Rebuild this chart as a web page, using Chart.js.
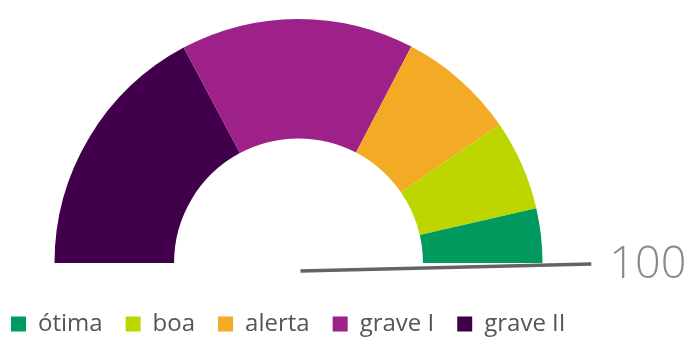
<!DOCTYPE html>
<html>
<head>
<meta charset="utf-8">
<script src="https://cdn.jsdelivr.net/npm/chart.js@4/dist/chart.umd.min.js"></script>
<style>
  html, body { margin: 0; padding: 0; background: #fff; }
  #wrap { width: 692px; height: 341px; }
</style>
</head>
<body>
<div id="wrap"><canvas id="myChart"></canvas></div>
<script>
// categories as drawn from left to right on the gauge
const categories = ['grave II', 'grave I', 'alerta', 'boa', 'ótima'];
// span of each band, in points of a 0–100 scale
const spans = [34.4, 30.9, 15.5, 12.0, 7.2];
const colors = ['#42004c', '#9d2189', '#f3aa24', '#bed600', '#009a5e'];
const needleValue = 100;
const scaleMax = 100;

// needle drawn from the doughnut's own geometry
const needle = {
  id: 'needle',
  afterDatasetsDraw(chart) {
    const arc = chart.getDatasetMeta(0).data[0];
    if (!arc) return;
    const {x, y, outerRadius} = arc.getProps(['x', 'y', 'outerRadius'], true);
    const ctx = chart.ctx;
    const a = Math.PI * (1 - needleValue / scaleMax);
    const len = outerRadius * 1.2;
    const tipX = x + len * Math.cos(a);
    const tipY = y + 1 - len * Math.sin(a);
    ctx.save();
    ctx.strokeStyle = '#646464';
    ctx.lineWidth = 3.5;
    ctx.beginPath();
    ctx.moveTo(x + 2, y + 8);
    ctx.lineTo(tipX, tipY);
    ctx.stroke();
    ctx.fillStyle = '#8a8a8a';
    ctx.font = '300 45px "Open Sans", sans-serif';
    ctx.textBaseline = 'middle';
    ctx.textAlign = 'left';
    ctx.fillText(String(needleValue), tipX + 18, tipY + 1);
    ctx.restore();
  }
};

const data = {
  labels: categories,
  datasets: [{
    data: spans,
    backgroundColor: colors,
    borderWidth: 0,
  }]
};

const config = {
  type: 'doughnut',
  data: data,
  options: {
    responsive: true,
    maintainAspectRatio: false,
    animation: false,
    rotation: -90,
    circumference: 180,
    cutout: '51%',
    radius: 244,
    layout: {
      padding: {left: -12, right: 95, top: 0, bottom: -5}
    },
    plugins: {
      tooltip: {enabled: false},
      legend: {
        position: 'bottom',
        align: 'start',
        reverse: true,
        // empty title only adds a little space above the legend row
        title: {display: true, text: ' ', padding: 0, font: {size: 6}},
        labels: {
          boxWidth: 15,
          boxHeight: 15,
          padding: 23,
          color: '#555',
          font: {family: '"Open Sans", sans-serif', size: 24}
        }
      }
    }
  },
  plugins: [needle]
};

const myChart = new Chart(
  document.getElementById('myChart'),
  config
);
</script>
</body>
</html>
